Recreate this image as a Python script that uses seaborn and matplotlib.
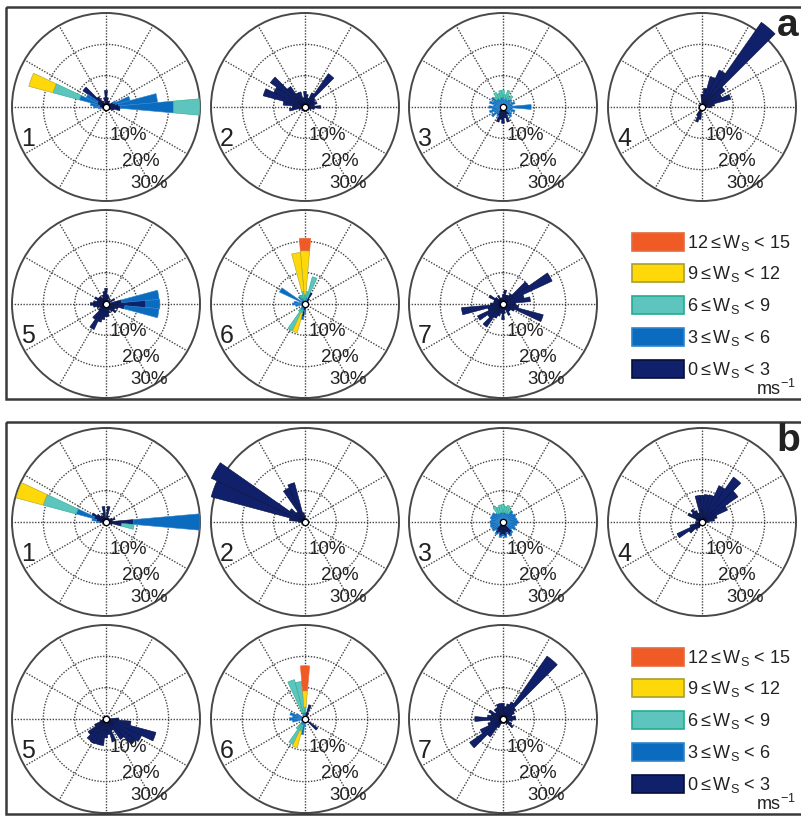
"""Wind roses for seven sites in two periods (panels a and b), drawn as
stacked polar bars with a shared wind speed legend.
"""
import matplotlib
matplotlib.use('Agg')
import numpy as np
import seaborn as sns
from matplotlib import pyplot as plt
from matplotlib.patches import Rectangle

W, H = 801, 816          # figure size in pixels
DPI = 100
R = 94                   # rose radius in pixels

# wind speed bins, slowest first
SPEED_LABELS = [r'0$\leq$W$_\mathregular{S}$ < 3',
                r'3$\leq$W$_\mathregular{S}$ < 6',
                r'6$\leq$W$_\mathregular{S}$ < 9',
                r'9$\leq$W$_\mathregular{S}$ < 12',
                r'12$\leq$W$_\mathregular{S}$ < 15']
COLOURS = ['#10206a', '#0b6cbf', '#5ec5be', '#ffd80a', '#f05a24']
EDGES = ['#060f3a', '#2f84cc', '#22ae8e', '#a8a030', '#e36a40']

# frequency (%) per compass direction (deg) for each speed bin, slowest first
ROSE_A1 = {0: [5.3], 10: [3], 20: [2], 30: [2], 40: [1.5], 50: [1.5],
           60: [2.5, 1], 70: [3, 5], 80: [4, 12.5], 90: [4.5, 17, 8.5],
           100: [4.5], 110: [2.5], 120: [1.5], 150: [1], 180: [1.5],
           210: [1], 240: [1], 260: [1.5, 1], 270: [2, 2], 280: [2, 3],
           290: [3, 5.8, 8.7, 8], 300: [3, 4], 310: [9], 320: [4],
           330: [2], 350: [3]}
ROSE_A2 = {0: [5], 10: [4], 20: [3], 30: [5], 40: [13], 50: [4], 60: [3.5],
           70: [4], 80: [3], 90: [5], 100: [3], 110: [2], 130: [1.5],
           160: [1.5], 190: [1.5], 220: [1.5], 250: [2], 260: [5], 270: [4],
           280: [7], 290: [13.8], 300: [11], 310: [13.5], 320: [8], 330: [5],
           340: [5], 350: [3]}
ROSE_A3 = {0: [1, 2, 2.3], 10: [1, 1.5, 1.5], 20: [1, 2, 2.5],
           30: [1, 1.5, 1], 40: [1, 2, 1.5], 50: [1, 2.5], 60: [1, 1.5],
           70: [1, 3], 80: [1, 2], 90: [1, 8], 100: [1.5, 1.5],
           110: [1.5, 2.5], 120: [1.5, 1], 130: [1.5, 2], 140: [3, 1],
           150: [2.5], 160: [5], 170: [3.5], 180: [5.2], 190: [4],
           200: [5], 210: [3, 0.5], 220: [2, 1], 230: [1, 3.5], 240: [1, 2],
           250: [1, 3.5], 260: [1, 2.5], 270: [1, 3.5], 280: [1, 2],
           290: [1, 3.5], 300: [1, 2.5], 310: [1, 3.5], 320: [1, 2, 1],
           330: [1, 2, 2.2], 340: [1, 1.5, 2], 350: [1, 2, 2.3]}
ROSE_A4 = {0: [4], 10: [6], 20: [10], 30: [13], 40: [33], 50: [9], 60: [7],
           70: [9.5], 80: [4], 90: [3], 120: [1], 150: [1], 180: [1.5],
           190: [4], 200: [5], 210: [3], 240: [1], 270: [1], 300: [1],
           330: [1.5]}
ROSE_A5 = {0: [5], 10: [3], 20: [2.5], 40: [2], 60: [3], 80: [5, 12],
           90: [12.7, 4.5], 100: [6, 11], 110: [4], 120: [3], 130: [4],
           140: [3], 150: [2], 160: [3], 170: [4], 180: [4], 190: [5],
           200: [6], 210: [9], 220: [6], 230: [3], 240: [2], 250: [3],
           260: [4], 270: [5], 280: [4], 290: [3], 300: [4], 310: [3],
           320: [3], 330: [2], 340: [3], 350: [4]}
ROSE_A6 = {0: [0.5, 0.5, 2, 14, 4], 10: [1, 1, 2], 20: [1, 1, 7], 30: [4],
           40: [2], 70: [1], 100: [1], 130: [1], 160: [1], 180: [2, 1],
           190: [4, 1], 200: [1, 1, 1, 6.5], 210: [1, 1, 7.5],
           220: [1, 1, 1], 260: [1, 2], 270: [1, 3], 280: [1, 2.5],
           300: [1, 8], 320: [1, 2], 330: [1, 1, 1], 340: [1, 1, 1],
           350: [0.5, 0.5, 3, 12.5]}
ROSE_A7 = {0: [3], 10: [4.5], 20: [3], 30: [3], 40: [4], 50: [10],
           60: [17.3], 70: [7], 80: [8.8], 90: [4], 100: [5], 110: [13.3],
           120: [4], 130: [3], 140: [3], 150: [4], 160: [2], 170: [3],
           180: [5], 190: [3], 200: [4], 210: [5], 220: [9], 230: [6],
           240: [9], 250: [5], 260: [13.3], 270: [4], 280: [3], 290: [3],
           300: [5], 310: [3], 320: [2], 330: [3], 340: [2], 350: [2]}

ROSE_B1 = {0: [1], 10: [5], 20: [2], 40: [1.5], 60: [2], 70: [3], 80: [2],
           90: [8.7, 21.3], 100: [5, 0, 4], 110: [2], 140: [1], 180: [1],
           220: [1], 250: [1], 270: [2, 1], 280: [3, 1.5],
           290: [4, 5.8, 10.9, 9], 300: [5], 310: [3.5], 320: [2.5],
           330: [2], 340: [3], 350: [5]}
ROSE_B2 = {0: [2], 30: [1], 60: [1], 90: [1.5], 120: [1], 180: [1],
           240: [1], 270: [2], 280: [5], 290: [31], 300: [33], 310: [6],
           320: [4], 330: [12], 340: [13], 350: [3]}
ROSE_B3 = {0: [1, 2, 2.5], 10: [1, 2, 2], 20: [1, 2, 2.5],
           30: [1, 2, 1.5], 40: [1, 3.5], 50: [1, 3], 60: [1, 3.5],
           70: [1, 3.2], 80: [1, 3.5], 90: [1, 3.8], 100: [1, 3.5],
           110: [1, 3], 120: [1, 3.5], 130: [1, 2.5], 140: [4, 0.5],
           150: [4.5, 0.5], 160: [3.5, 0.5], 170: [4.5, 0.5],
           180: [4, 0.5], 190: [4.5, 0.5], 200: [3.5, 0.5],
           210: [4, 0.5], 220: [3, 0.5], 230: [1, 3.2], 240: [1, 2.8],
           250: [1, 3.2], 260: [1, 3], 270: [1, 3.2], 280: [1, 2.8],
           290: [1, 3.2], 300: [1, 3], 310: [1, 3.2], 320: [1, 2.5],
           330: [1, 2, 2.5], 340: [1, 2, 2], 350: [1, 2, 2.5]}
ROSE_B4 = {0: [8.5], 10: [8.8], 20: [9], 30: [12.8], 40: [17.5], 50: [14],
           60: [9], 70: [5], 80: [4], 90: [2], 120: [1], 150: [1], 180: [1],
           210: [2], 220: [3], 230: [5], 240: [8.8], 250: [4], 260: [2],
           270: [2], 290: [2], 300: [5], 310: [4], 320: [5], 330: [4],
           340: [3], 350: [8.5]}
ROSE_B5 = {0: [1], 30: [1], 60: [1], 90: [4], 100: [8], 110: [16.5],
           120: [12.5], 130: [11.5], 140: [8], 150: [4], 160: [7.5],
           170: [5], 180: [6], 190: [8.5], 200: [8.5], 210: [8.7],
           220: [8.5], 230: [7], 240: [4], 250: [2], 270: [1], 300: [1],
           330: [1]}
ROSE_B6 = {0: [1, 1, 1.7, 5.3, 8], 10: [2], 20: [4.7], 30: [2], 60: [0.5],
           90: [0.5], 120: [1], 130: [5], 140: [1], 160: [0.5], 180: [1, 1.5],
           190: [1, 4], 200: [1, 1, 2, 5.5], 210: [1, 1, 7], 220: [1, 1, 2],
           260: [1, 3], 270: [1, 4], 280: [1, 3], 290: [1, 4], 300: [1, 2],
           320: [0.5], 340: [1, 1, 11], 350: [1, 1, 10]}
ROSE_B7 = {0: [5], 10: [4], 20: [5], 30: [6], 40: [24.5], 50: [5], 60: [4],
           70: [3], 80: [4], 90: [4], 100: [3], 110: [2], 120: [3], 130: [4],
           140: [2], 160: [1.5], 180: [1.5], 200: [1.5], 210: [3], 220: [7],
           230: [13], 240: [8], 250: [5], 260: [4], 270: [9], 280: [5],
           290: [4], 300: [5], 310: [3], 320: [4], 330: [4], 340: [5],
           350: [5]}

PANELS = [('a', [ROSE_A1, ROSE_A2, ROSE_A3, ROSE_A4, ROSE_A5, ROSE_A6, ROSE_A7]),
          ('b', [ROSE_B1, ROSE_B2, ROSE_B3, ROSE_B4, ROSE_B5, ROSE_B6, ROSE_B7])]
RING_LABELS = ['10%', '20%', '30%']

# layout, in pixels from the top-left corner
COL_X = [106, 305, 503, 702]
ROW_Y = [107, 304]
PANEL_SHIFT = 415
LEGEND_Y = [369, 337, 305, 273, 242]   # slowest bin at the bottom


def draw_rose(fig, cx, cy, rose, number, over):
    """Draw one wind rose centred on pixel (cx, cy)."""
    ax = fig.add_axes([(cx - R) / W, (H - cy - R) / H, 2 * R / W, 2 * R / H],
                      projection='polar')
    ax.set_theta_zero_location('N')
    ax.set_theta_direction(-1)
    ax.set_axisbelow(True)

    dirs = sorted(rose)
    theta = np.radians(dirs)
    bottom = np.zeros(len(dirs))
    for k, colour in enumerate(COLOURS):
        heights = np.array([rose[d][k] if k < len(rose[d]) else 0.0
                            for d in dirs])
        keep = heights > 0
        if keep.any():
            ax.bar(theta[keep], heights[keep], width=np.radians(10),
                   bottom=bottom[keep], color=colour, edgecolor=EDGES[k],
                   linewidth=0.4, clip_on=False, zorder=3)
        bottom += heights

    ax.set_ylim(0, 30)
    ax.set_yticks([10, 20])
    ax.set_yticklabels([])
    ax.set_xticks(np.radians(np.arange(0, 360, 30)))
    ax.set_xticklabels([])
    ax.grid(True, color='#454545', linestyle=(0, (1, 1.1)), linewidth=1.0)
    ax.spines['polar'].set_color('#484848')
    ax.spines['polar'].set_linewidth(1.4)
    ax.plot([0], [0], 'o', ms=4.5, mfc='white', mec='black', mew=0.9,
            zorder=5, clip_on=False)

    over.text(cx - 78, cy + 32, str(number), fontsize=18, color='#222222',
              ha='center', va='center')
    for (dx, dy), label in zip([(22, 28), (35, 54), (43, 76)], RING_LABELS):
        over.text(cx + dx, cy + dy, label, fontsize=13.5, color='#222222',
                  ha='center', va='center')


def main():
    sns.set_theme(style='white')
    plt.rcParams['font.family'] = ['Liberation Sans', 'DejaVu Sans']
    plt.rcParams['mathtext.fontset'] = 'custom'
    plt.rcParams['mathtext.rm'] = 'Liberation Sans'
    plt.rcParams['mathtext.it'] = 'Liberation Sans:italic'

    fig = plt.figure(figsize=(W / DPI, H / DPI), dpi=DPI, facecolor='white')

    # overlay in pixel coordinates for frames, labels and the legend,
    # kept above the roses so the ring labels are not hidden
    over = fig.add_axes([0, 0, 1, 1])
    over.set_xlim(0, W)
    over.set_ylim(H, 0)
    over.axis('off')
    over.set_zorder(10)

    for p, (letter, roses) in enumerate(PANELS):
        shift = p * PANEL_SHIFT
        over.add_patch(Rectangle((6, 7 + shift), 900, 392, fill=False,
                                 edgecolor='#3a3a3a', linewidth=1.8,
                                 clip_on=False))
        over.text(788, 26 + shift, letter, fontsize=28, fontweight='bold',
                  color='#222222', ha='center', va='center')

        for i, rose in enumerate(roses):
            cx = COL_X[i % 4]
            cy = ROW_Y[i // 4] + shift
            draw_rose(fig, cx, cy, rose, i + 1, over)

        for k, label in enumerate(SPEED_LABELS):
            y = LEGEND_Y[k] + shift
            over.add_patch(Rectangle((632, y - 9), 52, 18,
                                     facecolor=COLOURS[k],
                                     edgecolor=EDGES[k], linewidth=1.2))
            over.text(687, y + 6, label, fontsize=13, color='#222222',
                      ha='left', va='baseline')
        over.text(756, 395 + shift, r'ms$^\mathregular{-1}$', fontsize=13,
                  color='#222222', ha='left', va='baseline')

    fig.savefig('out.png', dpi=DPI, facecolor='white')


if __name__ == '__main__':
    main()
